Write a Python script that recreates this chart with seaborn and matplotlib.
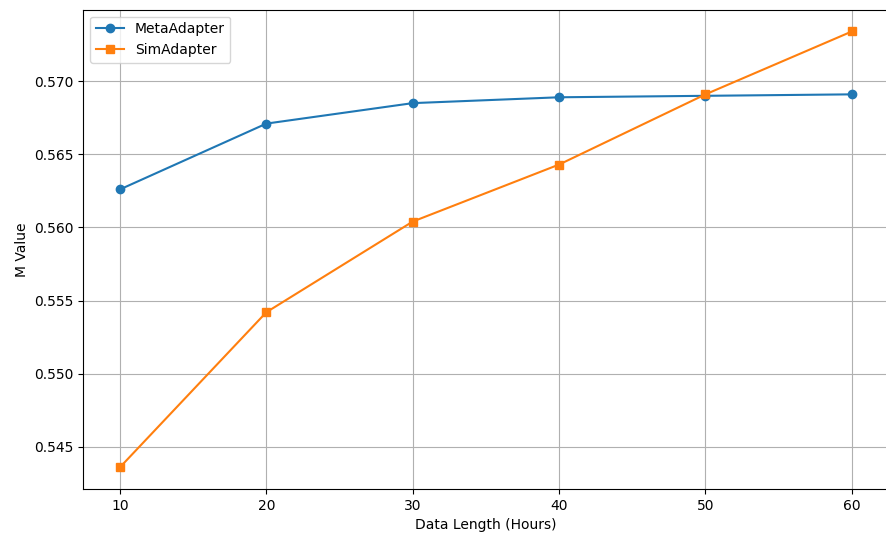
import matplotlib
matplotlib.use("Agg")
import matplotlib.pyplot as plt
import seaborn as sns

hours = [10, 20, 30, 40, 50, 60]
meta_adapter = [0.5626, 0.5671, 0.5685, 0.5689, 0.5690, 0.5691]
sim_adapter = [0.5436, 0.5542, 0.5604, 0.5643, 0.5691, 0.5734]

fig = plt.figure(figsize=(8.87, 5.38), dpi=100)
ax = fig.add_axes([0.094, 0.091, 0.9076, 0.891])

sns.lineplot(x=hours, y=meta_adapter, color="#1f77b4", marker="o",
             markersize=6, markeredgecolor="#1f77b4", markeredgewidth=1,
             label="MetaAdapter", ax=ax)
sns.lineplot(x=hours, y=sim_adapter, color="#ff7f0e", marker="s",
             markersize=6, markeredgecolor="#ff7f0e", markeredgewidth=1,
             label="SimAdapter", ax=ax)

ax.grid(True)
ax.set_xlabel("Data Length (Hours)")
ax.set_ylabel("M Value")
ax.legend(loc="upper left")

fig.savefig("out.png", dpi=100)
